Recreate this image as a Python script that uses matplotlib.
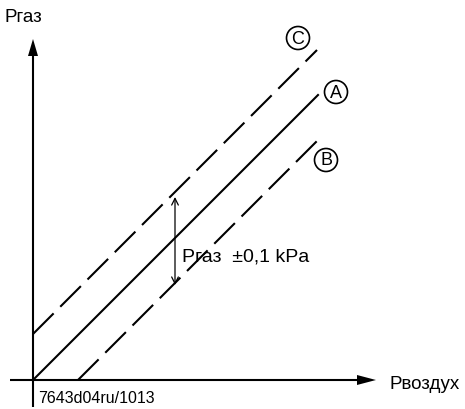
import matplotlib
matplotlib.use("Agg")
import matplotlib.pyplot as plt
from matplotlib.patches import Circle

plt.rcParams['font.family'] = ['Liberation Sans', 'DejaVu Sans']

# Data (pixel-like units, origin at axes crossing)
line_names = ['A', 'B', 'C']
line_x_start = [0, 45, 0]
line_x_end = [285, 285, 284]
line_offset = [0, -45, 46]
line_styles = ['solid', 'dashed', 'dashed']
label_pos = {'C': (265, 342), 'A': (303, 288), 'B': (293, 220)}

tol_x = 142
tol_y = (95, 183)
tol_text = "Pгаз  ±0,1 kPa"

fig = plt.figure(figsize=(4.65, 4.10), dpi=100)
ax = fig.add_axes([0, 0, 1, 1])
ax.set_xlim(-33, 432)
ax.set_ylim(-29, 381)
ax.axis('off')

# axes with arrows
ax.plot([-23, 326], [0, 0], color='black', lw=1.5, solid_capstyle='butt')
ax.plot([0, 0], [-27, 326], color='black', lw=1.5, solid_capstyle='butt')
ax.fill([324, 343, 324], [-5, 0, 5], color='black', lw=0)
ax.fill([-5, 0, 5], [324, 341, 324], color='black', lw=0)

for name, xs, xe, off, ls in zip(line_names, line_x_start, line_x_end, line_offset, line_styles):
    xx = [xs, xe]
    yy = [xs + off, xe + off]
    if ls == 'solid':
        ax.plot(xx, yy, color='black', lw=1.5)
    else:
        ax.plot(xx, yy, color='black', lw=1.5, linestyle=(0, (14, 4.5)))
    cx, cy = label_pos[name]
    ax.add_patch(Circle((cx, cy), 11.5, fill=False, ec='black', lw=1.2))
    ax.text(cx, cy, name, ha='center', va='center', fontsize=13)

ax.annotate('', xy=(tol_x, tol_y[0]), xytext=(tol_x, tol_y[1]),
            arrowprops=dict(arrowstyle='<->', color='black', lw=0.9,
                            shrinkA=0, shrinkB=0, mutation_scale=12))
ax.text(149, 119, tol_text, ha='left', va='baseline', fontsize=14)

ax.text(-28, 359, "Pгаз", ha='left', va='baseline', fontsize=13.5)
ax.text(356, -8, "Pвоздух", ha='left', va='baseline', fontsize=13.5)
ax.text(5, -22, "7643d04ru/1013", ha='left', va='baseline', fontsize=11.5)

fig.savefig('out.png', dpi=100)
